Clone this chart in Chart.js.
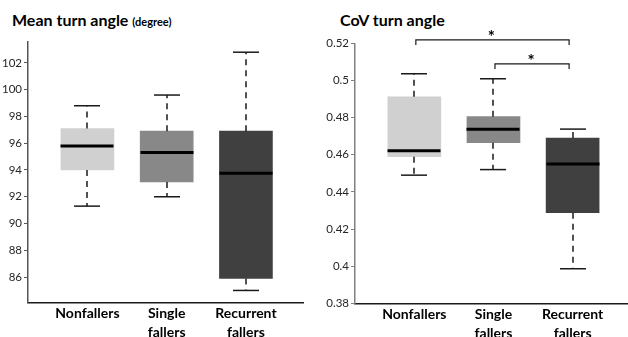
<!DOCTYPE html>
<html>
<head>
<meta charset="utf-8">
<script src="https://cdn.jsdelivr.net/npm/chart.js@4.4.1/dist/chart.umd.min.js"></script>
<style>
  html, body { margin: 0; padding: 0; background: #fff; overflow: hidden; }
  body { width: 628px; height: 337px; position: relative; font-family: Lato, "Open Sans", sans-serif; }
  .panel { position: absolute; top: 0; width: 314px; height: 337px; }
  .title { position: absolute; font-weight: bold; color: #000; white-space: nowrap; line-height: 1; font-size: 16px; }
  .title small { font-size: 11px; }
</style>
</head>
<body>
<div class="title" style="left:12px; top:12px;">Mean turn angle <small>(degree)</small></div>
<div class="title" style="left:340px; top:12px;">CoV turn angle</div>
<div class="panel" style="left:0"><canvas id="angleChart"></canvas></div>
<div class="panel" style="left:314px"><canvas id="covChart"></canvas></div>
<script>
// group names (multi-line labels as arrays)
const groups = ['Nonfallers', ['Single', 'fallers'], ['Recurrent', 'fallers']];

// Mean turn angle (degree)
const angleMin = [91.3, 92.0, 85.0];
const angleQ1 = [94.0, 93.1, 85.9];
const angleMedian = [95.8, 95.3, 93.75];
const angleQ3 = [97.1, 96.9, 96.9];
const angleMax = [98.8, 99.6, 102.8];
const angleTicks = [86, 88, 90, 92, 94, 96, 98, 100, 102];

// CoV turn angle
const covMin = [0.449, 0.452, 0.3986];
const covQ1 = [0.4589, 0.4665, 0.4288];
const covMedian = [0.4622, 0.4737, 0.455];
const covQ3 = [0.4912, 0.4805, 0.469];
const covMax = [0.5036, 0.5009, 0.4738];
const covTicks = [0.38, 0.4, 0.42, 0.44, 0.46, 0.48, 0.5, 0.52];

// significance brackets (group numbers) and their heights
const sigPairs = [[1, 3], [2, 3]];
const sigLevels = [0.5218, 0.5089];

const boxColors = ['#d0d0d0', '#888888', '#404040'];
const BOX_PX = 53;
const CAP_HALF = 13;

/**
 * Draws medians, dashed whiskers, caps and significance brackets
 * on top of the floating bars (boxes)
 */
function boxDecor(stats) {
    return {
        id: 'boxDecor',
        afterDatasetsDraw(chart) {
            const ctx = chart.ctx;
            const x = chart.scales.x;
            const y = chart.scales.y;
            const line = (x1, y1, x2, y2) => {
                ctx.beginPath();
                ctx.moveTo(x1, y1);
                ctx.lineTo(x2, y2);
                ctx.stroke();
            };
            ctx.save();
            stats.median.forEach((m, i) => {
                const cx = Math.round(x.getPixelForValue(i + 1));
                const yMax = y.getPixelForValue(stats.max[i]);
                const yMin = y.getPixelForValue(stats.min[i]);
                const yQ1 = y.getPixelForValue(stats.q1[i]);
                const yQ3 = y.getPixelForValue(stats.q3[i]);

                // whiskers
                ctx.strokeStyle = '#1a1a1a';
                ctx.lineWidth = 1.5;
                ctx.setLineDash([6, 5]);
                line(cx, yQ3, cx, yMax);
                line(cx, yQ1, cx, yMin);
                ctx.setLineDash([]);

                // caps
                line(cx - CAP_HALF, yMax, cx + CAP_HALF, yMax);
                line(cx - CAP_HALF, yMin, cx + CAP_HALF, yMin);

                // median
                ctx.strokeStyle = '#000';
                ctx.lineWidth = 3;
                const ym = y.getPixelForValue(m);
                line(cx - BOX_PX / 2, ym, cx + BOX_PX / 2, ym);
            });

            // significance brackets
            if (stats.sigPairs) {
                ctx.strokeStyle = '#1a1a1a';
                ctx.lineWidth = 1.2;
                ctx.fillStyle = '#000';
                ctx.font = 'bold 17px Lato, sans-serif';
                ctx.textAlign = 'center';
                ctx.textBaseline = 'alphabetic';
                stats.sigPairs.forEach((pair, k) => {
                    const x1 = x.getPixelForValue(pair[0]) + 1.5;
                    const x2 = x.getPixelForValue(pair[1]) - 3.5;
                    const yl = y.getPixelForValue(stats.sigLevels[k]);
                    ctx.beginPath();
                    ctx.moveTo(x1, yl + 5);
                    ctx.lineTo(x1, yl);
                    ctx.lineTo(x2, yl);
                    ctx.lineTo(x2, yl + 5);
                    ctx.stroke();
                    ctx.fillText('*', (x1 + x2) / 2 - 1, yl + 3);
                });
            }
            ctx.restore();
        }
    };
}

function createBoxChart(canvasId, stats, yRange, ticks, layout) {
    const canvas = document.getElementById(canvasId);
    return new Chart(canvas.getContext('2d'), {
        type: 'bar',
        data: {
            datasets: [{
                data: groups.map((g, i) => ({ x: i + 1, y: [stats.q1[i], stats.q3[i]] })),
                backgroundColor: boxColors,
                borderWidth: 0,
                barThickness: BOX_PX
            }]
        },
        options: {
            responsive: true,
            maintainAspectRatio: false,
            animation: false,
            layout: { padding: layout.padding },
            plugins: {
                legend: { display: false },
                tooltip: { enabled: false }
            },
            scales: {
                x: {
                    type: 'linear',
                    offset: false,
                    min: 0.25,
                    max: layout.xMax,
                    afterBuildTicks: (scale) => {
                        scale.ticks = groups.map((g, i) => ({ value: i + 1 }));
                    },
                    afterFit: (scale) => { scale.height = layout.xHeight; },
                    grid: { display: false, offset: false },
                    border: { display: true, color: '#1a1a1a', width: 1.5 },
                    ticks: {
                        padding: -7,
                        maxRotation: 0,
                        autoSkip: false,
                        color: '#000',
                        font: { family: 'Lato, sans-serif', size: 14, weight: 'bold', lineHeight: 1.4 },
                        callback: (value, index) => groups[index]
                    }
                },
                y: {
                    min: yRange[0],
                    max: yRange[1],
                    afterBuildTicks: (scale) => {
                        scale.ticks = ticks.map(v => ({ value: v }));
                    },
                    afterFit: (scale) => { scale.width = layout.yWidth; },
                    grid: {
                        display: true,
                        drawOnChartArea: false,
                        drawTicks: true,
                        tickLength: 4,
                        color: layout.axisColor
                    },
                    border: { display: true, color: layout.axisColor, width: 1.5 },
                    ticks: {
                        padding: 2,
                        color: '#262626',
                        font: { family: 'Lato, sans-serif', size: 11.5 },
                        callback: (value) => String(value)
                    }
                }
            }
        },
        plugins: [boxDecor(stats)]
    });
}

createBoxChart('angleChart', {
    min: angleMin, q1: angleQ1, median: angleMedian, q3: angleQ3, max: angleMax
}, [84.1, 103.6], angleTicks, {
    padding: { top: 41.5, right: 11, bottom: 0, left: 0 },
    xMax: 3.72, xHeight: 34.5, yWidth: 28, axisColor: '#555'
});

createBoxChart('covChart', {
    min: covMin, q1: covQ1, median: covMedian, q3: covQ3, max: covMax,
    sigPairs: sigPairs, sigLevels: sigLevels
}, [0.38, 0.52], covTicks, {
    padding: { top: 43.3, right: 0, bottom: 0, left: 0 },
    xMax: 3.7, xHeight: 33.7, yWidth: 41, axisColor: '#808080'
});
</script>
</body>
</html>
